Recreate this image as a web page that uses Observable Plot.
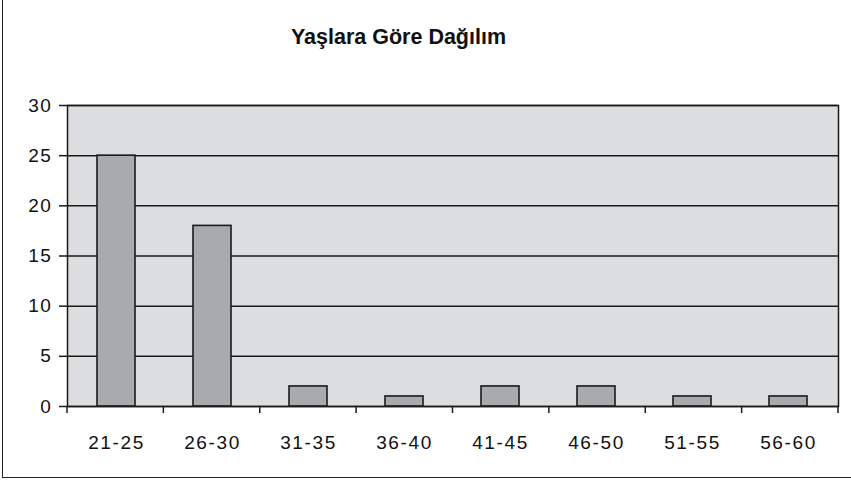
<!DOCTYPE html>
<html>
<head>
<meta charset="utf-8">
<script src="https://cdn.jsdelivr.net/npm/d3@7"></script>
<script src="https://cdn.jsdelivr.net/npm/@observablehq/plot@0.6"></script>
<style>
  html, body { margin: 0; padding: 0; background: #fff; }
  #wrap { position: relative; width: 851px; height: 480px; overflow: hidden; background: #fff; }
  #border { position: absolute; left: 2px; top: -2px; width: 860px; height: 479.5px;
            border-left: 1.5px solid #222; border-bottom: 1.5px solid #222; box-sizing: border-box; }
  #title { position: absolute; left: 0; top: 27px; width: 797px; text-align: center;
           font-family: "Liberation Sans", Arial, sans-serif; font-weight: bold; font-size: 21.5px;
           line-height: 21.5px; color: #111; }
  #chart { position: absolute; left: 0; top: 0; }
  #chart svg text { letter-spacing: 1.6px; }
</style>
</head>
<body>
<div id="wrap">
  <div id="border"></div>
  <div id="title">Yaşlara Göre Dağılım</div>
  <div id="chart"></div>
</div>
<script>
const title = "Yaşlara Göre Dağılım";
const categories = ["21-25", "26-30", "31-35", "36-40", "41-45", "46-50", "51-55", "56-60"];
const counts = [25, 18, 2, 1, 2, 2, 1, 1];
const yTicks = [0, 5, 10, 15, 20, 25, 30];

document.getElementById("title").textContent = title;
const data = categories.map((c, i) => ({age: c, count: counts[i]}));
const ink = "#1a1a1a";

// boundary tick marks between categories (below the x axis)
function boundaryTicks(index, scales, values, dims) {
  const g = d3.create("svg:g");
  const x0 = dims.marginLeft, x1 = dims.width - dims.marginRight;
  const step = (x1 - x0) / categories.length;
  const yb = dims.height - dims.marginBottom;
  for (let k = 0; k <= categories.length; k++) {
    g.append("line")
      .attr("x1", x0 + k * step).attr("x2", x0 + k * step)
      .attr("y1", yb).attr("y2", yb + 7)
      .attr("stroke", ink).attr("stroke-width", 1.5);
  }
  return g.node();
}

const chart = Plot.plot({
  width: 851,
  height: 480,
  marginTop: 105,
  marginBottom: 74,
  marginLeft: 67,
  marginRight: 13,
  style: {fontFamily: "'Liberation Sans', Arial, sans-serif", fontSize: "19px", background: "transparent", color: "#111", overflow: "visible"},
  x: {domain: categories, paddingInner: 0.6, paddingOuter: 0.3, axis: null, label: null},
  y: {domain: [0, 30], axis: null, label: null},
  marks: [
    Plot.frame({fill: "#dcdddf", stroke: null}),
    Plot.ruleY(yTicks, {stroke: ink, strokeWidth: 1.5}),
    Plot.barY(data, {x: "age", y: "count", fill: "#a9aaad", stroke: ink, strokeWidth: 1.6}),
    Plot.frame({stroke: ink, strokeWidth: 1.5}),
    Plot.axisY({ticks: yTicks, label: null, tickSize: 8, tickPadding: 7, stroke: ink, strokeWidth: 1.5, fill: "#111", fontSize: 19}),
    Plot.axisX({label: null, tickSize: 0, tickPadding: 29, fill: "#111", fontSize: 19}),
    boundaryTicks
  ]
});
document.getElementById("chart").appendChild(chart);
</script>
</body>
</html>
